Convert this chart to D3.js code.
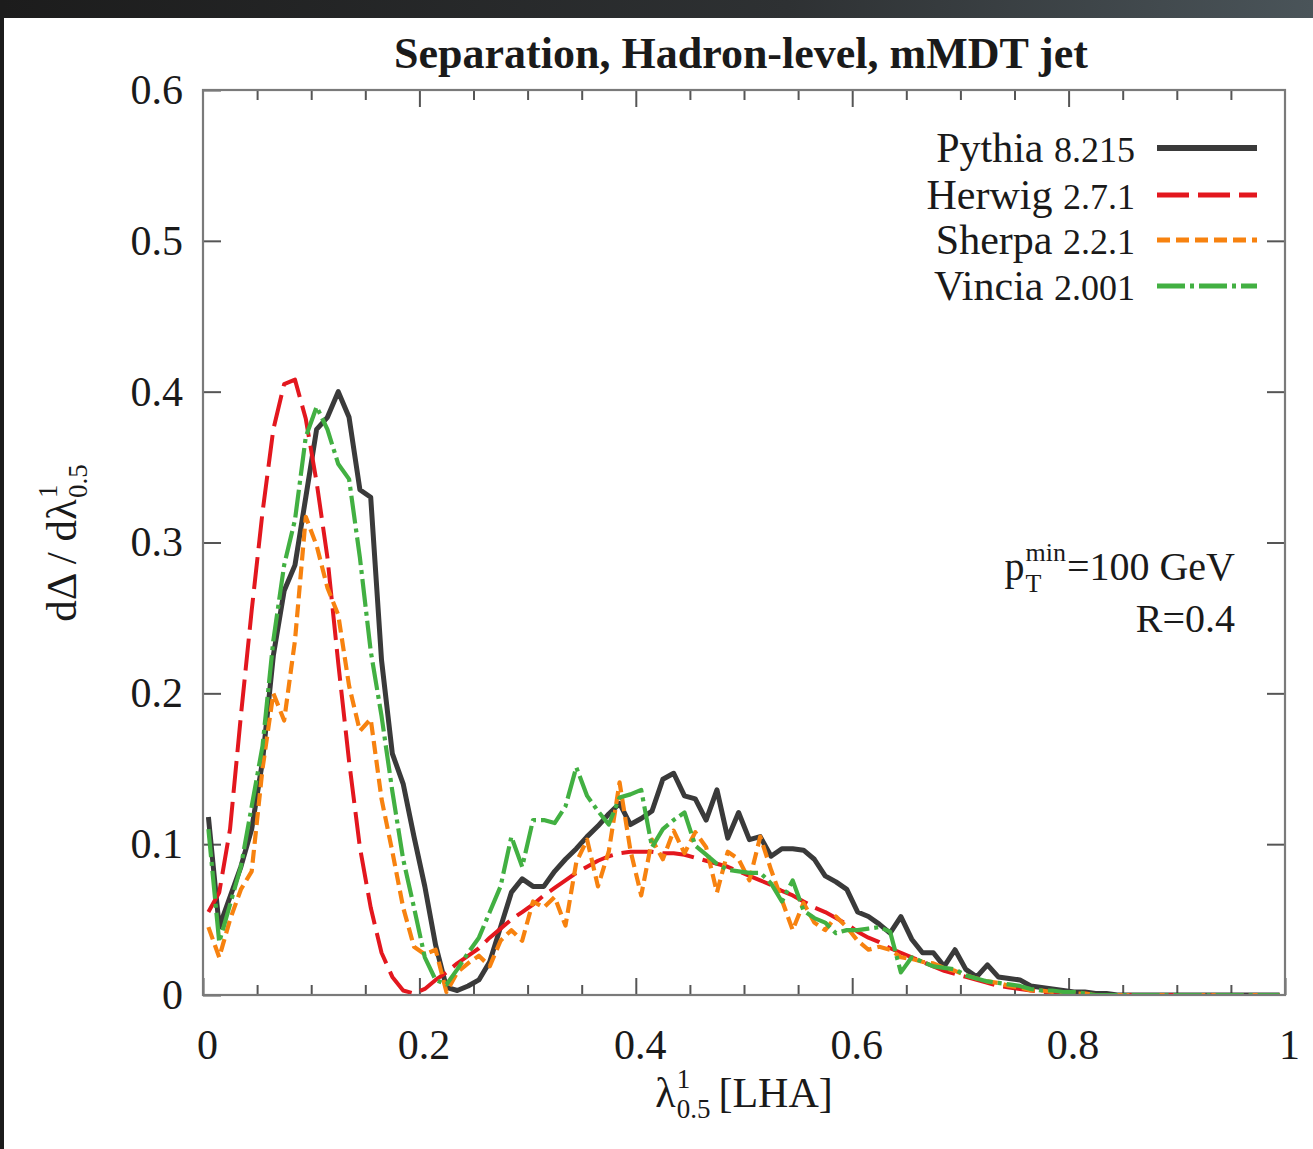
<!DOCTYPE html>
<html><head><meta charset="utf-8">
<script src="https://cdn.jsdelivr.net/npm/d3@7"></script>
<style>
body{margin:0;background:#fff;}
svg{display:block;}
text{font-family:"Liberation Serif","Times New Roman",serif;fill:#1a1a1a;}
</style>
</head><body><svg id="c" width="1313" height="1149"></svg>
<script>
// ---------------- data ----------------
const lambda=[0.005,0.015,0.025,0.035,0.045,0.055,0.065,0.075,0.085,0.095,
0.105,0.115,0.125,0.135,0.145,0.155,0.165,0.175,0.185,0.195,
0.205,0.215,0.225,0.235,0.245,0.255,0.265,0.275,0.285,0.295,
0.305,0.315,0.325,0.335,0.345,0.355,0.365,0.375,0.385,0.395,
0.405,0.415,0.425,0.435,0.445,0.455,0.465,0.475,0.485,0.495,
0.505,0.515,0.525,0.535,0.545,0.555,0.565,0.575,0.585,0.595,
0.605,0.615,0.625,0.635,0.645,0.655,0.665,0.675,0.685,0.695,
0.705,0.715,0.725,0.735,0.745,0.755,0.765,0.775,0.785,0.795,
0.805,0.815,0.825,0.835,0.845,0.855,0.865,0.875,0.885,0.895,
0.905,0.915,0.925,0.935,0.945,0.955,0.965,0.975,0.985,0.995];

const pythia=[0.118,0.045,0.065,0.085,0.110,0.155,0.225,0.268,0.285,0.330,
0.375,0.383,0.400,0.383,0.335,0.330,0.222,0.160,0.140,0.105,
0.072,0.033,0.005,0.003,0.006,0.010,0.022,0.045,0.068,0.077,
0.072,0.072,0.082,0.090,0.097,0.105,0.112,0.120,0.127,0.113,
0.117,0.122,0.143,0.147,0.132,0.130,0.116,0.136,0.104,0.121,
0.103,0.105,0.092,0.097,0.097,0.096,0.090,0.079,0.075,0.070,
0.055,0.052,0.047,0.041,0.052,0.037,0.028,0.028,0.019,0.030,
0.017,0.012,0.020,0.012,0.011,0.010,0.006,0.005,0.004,0.003,
0.002,0.002,0.001,0.001,0,0,0,0,0,0,
0,0,0,0,0,0,0,0,0,0];

const herwig=[0.055,0.068,0.110,0.185,0.255,0.320,0.375,0.405,0.408,0.382,
0.340,0.290,0.220,0.155,0.098,0.058,0.028,0.012,0.003,0.001,
0.004,0.010,0.015,0.021,0.026,0.031,0.038,0.044,0.050,0.055,
0.060,0.066,0.071,0.076,0.081,0.085,0.089,0.092,0.094,0.095,
0.095,0.095,0.094,0.094,0.093,0.091,0.089,0.087,0.085,0.082,
0.079,0.076,0.073,0.069,0.066,0.062,0.058,0.055,0.051,0.047,
0.042,0.038,0.035,0.031,0.028,0.025,0.022,0.019,0.016,0.014,
0.012,0.010,0.008,0.006,0.005,0.004,0.003,0.002,0.002,0.001,
0.001,0.001,0,0,0,0,0,0,0,0,
0,0,0,0,0,0,0,0,0,0];

const sherpa=[0.045,0.025,0.050,0.070,0.082,0.150,0.200,0.182,0.235,0.317,
0.298,0.270,0.252,0.205,0.175,0.183,0.130,0.095,0.058,0.032,
0.027,0.030,0.002,0.015,0.021,0.026,0.019,0.036,0.043,0.036,
0.062,0.058,0.065,0.046,0.088,0.103,0.072,0.095,0.141,0.096,
0.066,0.103,0.090,0.109,0.094,0.108,0.098,0.068,0.095,0.090,
0.076,0.105,0.083,0.063,0.043,0.061,0.048,0.043,0.052,0.045,
0.036,0.030,0.032,0.030,0.025,0.024,0.022,0.021,0.018,0.016,
0.013,0.011,0.009,0.008,0.006,0.005,0.003,0.003,0.002,0.002,
0.001,0.001,0,0,0,0,0,0,0,0,
0,0,0,0,0,0,0,0,0,0];

const vincia=[0.110,0.035,0.060,0.085,0.125,0.165,0.235,0.285,0.315,0.370,
0.390,0.375,0.352,0.342,0.290,0.228,0.185,0.135,0.090,0.058,
0.025,0.010,0.007,0.017,0.028,0.038,0.055,0.072,0.105,0.085,
0.116,0.116,0.114,0.125,0.151,0.132,0.122,0.113,0.131,0.133,
0.136,0.098,0.110,0.116,0.121,0.099,0.093,0.087,0.083,0.082,
0.081,0.081,0.074,0.062,0.076,0.056,0.051,0.048,0.041,0.043,
0.043,0.044,0.045,0.042,0.015,0.025,0.022,0.019,0.018,0.017,
0.013,0.011,0.009,0.008,0.007,0.006,0.004,0.003,0.003,0.002,
0.002,0.001,0,0,0,0,0,0,0,0,
0,0,0,0,0,0,0,0,0,0];

const seriesNames=["Pythia","Herwig","Sherpa","Vincia"];
const seriesVersions=["8.215","2.7.1","2.2.1","2.001"];
const xTicks=[0,0.2,0.4,0.6,0.8,1];
const xTickLabels=["0","0.2","0.4","0.6","0.8","1"];
const xMinorTicks=[0.05,0.1,0.15,0.25,0.3,0.35,0.45,0.5,0.55,0.65,0.7,0.75,0.85,0.9,0.95];
const yTicks=[0,0.1,0.2,0.3,0.4,0.5,0.6];
const yTickLabels=["0","0.1","0.2","0.3","0.4","0.5","0.6"];

// ---------------- styles ----------------
const styles=[
 {color:"#3a3a3a",width:5,dash:null},
 {color:"#e3171e",width:4,dash:"32,9"},
 {color:"#f7820f",width:4.2,dash:"13,6"},
 {color:"#42b042",width:4.2,dash:"28,5,4,5"}
];
const seriesData=[pythia,herwig,sherpa,vincia];

const svg=d3.select("#c");
const W=1313,H=1149;
const L=203,R=1285,T=90,B=995;

// dark photo border
const defs=svg.append("defs");
const gr=defs.append("linearGradient").attr("id","topg").attr("x1","0").attr("x2","1");
gr.append("stop").attr("offset","0").attr("stop-color","#1c1c1c");
gr.append("stop").attr("offset","0.6").attr("stop-color","#2e3133");
gr.append("stop").attr("offset","1").attr("stop-color","#4a5459");
svg.append("rect").attr("x",0).attr("y",0).attr("width",W).attr("height",H).attr("fill","#fff");
svg.append("rect").attr("x",0).attr("y",0).attr("width",W).attr("height",18).attr("fill","url(#topg)");
svg.append("rect").attr("x",0).attr("y",0).attr("width",4).attr("height",H).attr("fill","#1c1c1c");

const x=d3.scaleLinear().domain([0,1]).range([L,R]);
const y=d3.scaleLinear().domain([0,0.6]).range([B,T]);

defs.append("clipPath").attr("id","clip").append("rect")
  .attr("x",L).attr("y",T-4).attr("width",R-L).attr("height",B-T+4);

// axes
const axisCol="#555";
function styleAxis(g){g.select(".domain").remove();g.selectAll("line").attr("stroke",axisCol).attr("stroke-width",2);
  g.selectAll("text").attr("font-size",42).attr("fill","#1a1a1a").attr("font-family",'"Liberation Serif",serif');}
svg.append("g").attr("transform",`translate(${L},0)`)
  .call(d3.axisLeft(y).tickValues(yTicks).tickFormat((d,i)=>yTickLabels[i]).tickSizeInner(-18).tickSizeOuter(0).tickPadding(20))
  .call(styleAxis);
svg.append("g").attr("transform",`translate(${R},0)`)
  .call(d3.axisRight(y).tickValues(yTicks.slice(1,-1)).tickFormat("").tickSizeInner(-18).tickSizeOuter(0))
  .call(styleAxis);
const xb=svg.append("g").attr("transform",`translate(0,${B})`)
  .call(d3.axisBottom(x).tickValues(xTicks).tickFormat((d,i)=>xTickLabels[i]).tickSizeInner(-17).tickSizeOuter(0).tickPadding(34))
  .call(styleAxis);
xb.selectAll("text").attr("dx",4);
svg.append("g").attr("transform",`translate(0,${B})`)
  .call(d3.axisBottom(x).tickValues(xMinorTicks).tickFormat("").tickSizeInner(-10).tickSizeOuter(0))
  .call(styleAxis);
svg.append("g").attr("transform",`translate(0,${T})`)
  .call(d3.axisTop(x).tickValues(xTicks.slice(1,-1)).tickFormat("").tickSizeInner(-17).tickSizeOuter(0))
  .call(styleAxis);
svg.append("g").attr("transform",`translate(0,${T})`)
  .call(d3.axisTop(x).tickValues(xMinorTicks).tickFormat("").tickSizeInner(-10).tickSizeOuter(0))
  .call(styleAxis);

// curves
const line=d3.line().x((d,i)=>x(lambda[i])).y(d=>y(d)).curve(d3.curveLinear);
const plot=svg.append("g").attr("clip-path","url(#clip)");
seriesData.forEach((s,k)=>{
  plot.append("path").datum(s).attr("d",line).attr("fill","none")
   .attr("stroke",styles[k].color).attr("stroke-width",styles[k].width)
   .attr("stroke-linejoin","round")
   .attr("stroke-dasharray",styles[k].dash);
});

// frame
svg.append("rect").attr("x",L).attr("y",T).attr("width",R-L).attr("height",B-T)
  .attr("fill","none").attr("stroke","#7a7a7a").attr("stroke-width",2.2);

// title
svg.append("text").attr("x",741).attr("y",68).attr("text-anchor","middle")
  .attr("font-size",44).attr("font-weight","bold").text("Separation, Hadron-level, mMDT jet");

// legend
const legY=[148,195,240,286];
seriesNames.forEach((n,k)=>{
  const t=svg.append("text").attr("x",1135).attr("y",legY[k]+14).attr("text-anchor","end");
  t.append("tspan").attr("font-size",42).text(n+" ");
  t.append("tspan").attr("font-size",36).text(seriesVersions[k]);
  svg.append("line").attr("x1",1157).attr("x2",1257).attr("y1",legY[k]).attr("y2",legY[k])
   .attr("stroke",styles[k].color).attr("stroke-width",styles[k].width+1)
   .attr("stroke-dasharray",styles[k].dash);
});

// annotation p_T^min = 100 GeV
(function(){
  const fs=40, ss=26;
  const main=svg.append("text").attr("x",1235).attr("y",580).attr("text-anchor","end").attr("font-size",fs).text("=100 GeV");
  const x0=1235-main.node().getComputedTextLength();
  const mn=svg.append("text").attr("x",x0-1).attr("y",561).attr("text-anchor","end").attr("font-size",ss).text("min");
  const wm=mn.node().getComputedTextLength();
  const xs=x0-1-wm;
  svg.append("text").attr("x",xs).attr("y",592).attr("font-size",ss).text("T");
  svg.append("text").attr("x",xs-1).attr("y",580).attr("text-anchor","end").attr("font-size",fs).text("p");
  svg.append("text").attr("x",1235).attr("y",632).attr("text-anchor","end").attr("font-size",fs).text("R=0.4");
})();

// x axis label: λ^1_0.5 [LHA]
(function(){
  const g=svg.append("g");
  const fs=42, ss=27;
  const a=g.append("text").attr("x",0).attr("y",0).attr("font-size",fs).text("λ");
  const wa=a.node().getComputedTextLength();
  g.append("text").attr("x",wa+1).attr("y",-19).attr("font-size",ss).text("1");
  const s=g.append("text").attr("x",wa+1).attr("y",11).attr("font-size",ss).text("0.5");
  const ws=s.node().getComputedTextLength();
  const r=g.append("text").attr("x",wa+1+ws+8).attr("y",0).attr("font-size",fs).text("[LHA]");
  const tot=wa+1+ws+8+r.node().getComputedTextLength();
  g.attr("transform",`translate(${744-tot/2},1107)`);
})();

// y axis label: dΔ / dλ^1_0.5
(function(){
  const g=svg.append("g");
  const fs=43, ss=27;
  const a=g.append("text").attr("x",0).attr("y",0).attr("font-size",fs).text("dΔ / dλ");
  const wa=a.node().getComputedTextLength();
  g.append("text").attr("x",wa+1).attr("y",-19).attr("font-size",ss).text("1");
  const s=g.append("text").attr("x",wa+1).attr("y",11).attr("font-size",ss).text("0.5");
  const tot=wa+1+s.node().getComputedTextLength();
  g.attr("transform",`translate(76,${543+tot/2}) rotate(-90)`);
})();
</script>
</body></html>
